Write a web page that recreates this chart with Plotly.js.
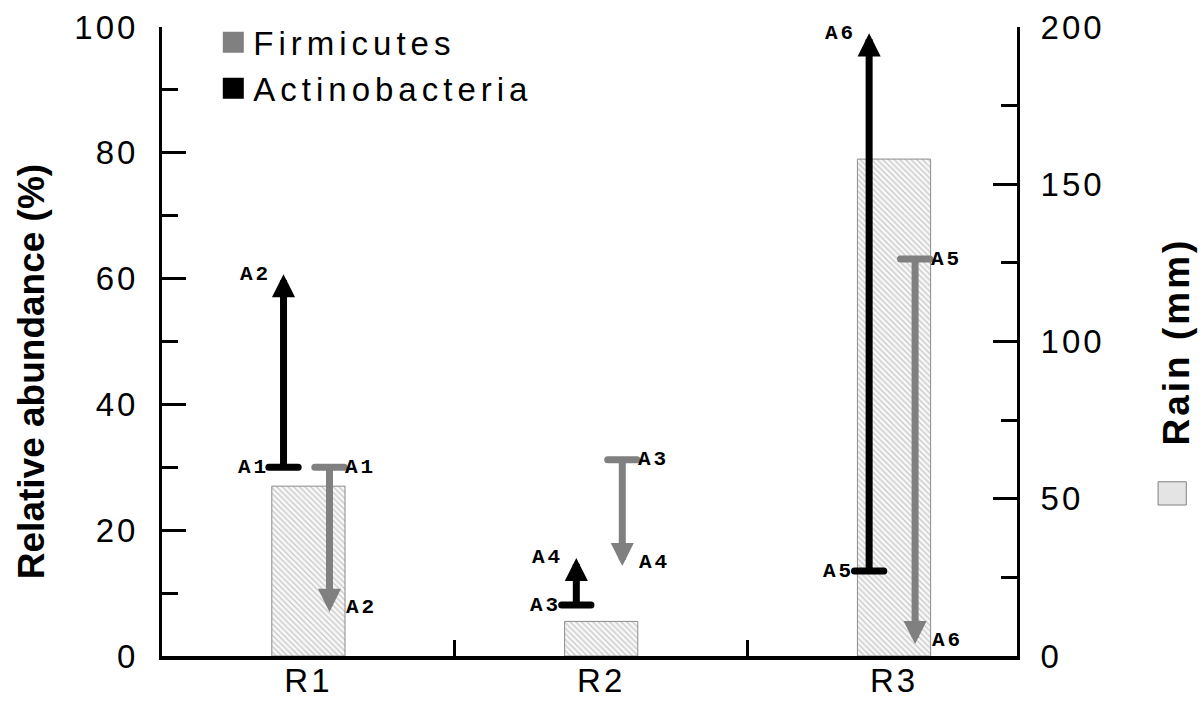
<!DOCTYPE html>
<html>
<head>
<meta charset="utf-8">
<script src="https://cdn.plot.ly/plotly-3.0.1.min.js"></script>
<style>
  html, body { margin: 0; padding: 0; background: #fff; }
  #chart { width: 1202px; height: 704px; }
  .xtick text, .ytick text, .y2tick text { letter-spacing: 3px; }
  .legendtext { letter-spacing: 5px; }
  .ytitle { letter-spacing: 3px; }
  text.annotation-text[style*="Mono"] { letter-spacing: 3px; }
  .scatterlayer path.js-line { stroke-linecap: round; }
</style>
</head>
<body>
<div id="chart"></div>
<script>
// ---- data ----
const categories = ['R1', 'R2', 'R3'];
const rainMM = [54, 11, 158];                 // right axis (mm)
const actinoStart = [30, 8.1, 13.5];          // Actinobacteria, %
const actinoEnd   = [60.7, 15.6, 99.0];
const actinoStartLabel = ['A1', 'A3', 'A5'];
const actinoEndLabel   = ['A2', 'A4', 'A6'];
const firmiStart = [30, 31.2, 63.1];          // Firmicutes, %
const firmiEnd   = [7.0, 14.3, 1.9];
const firmiStartLabel = ['A1', 'A3', 'A5'];
const firmiEndLabel   = ['A2', 'A4', 'A6'];

// ---- style constants ----
const GRAY = '#808080';
const BLACK = '#000000';
const actinoOff = -0.085;
const firmiOff = 0.072;
const capHalf = 0.05;
const idx = categories.map((c, i) => i);

const traces = [];
// rain bars (primary y, right side)
traces.push({
  type: 'bar', x: idx, y: rainMM, width: 0.25, yaxis: 'y', xaxis: 'x',
  showlegend: false, hoverinfo: 'y',
  marker: {
    color: '#f6f6f6',
    line: { color: '#8c8c8c', width: 1 },
    pattern: { shape: '\\', fgcolor: '#c6c6c6', bgcolor: '#f8f8f8', size: 4, solidity: 0.3 }
  }
});

function caps(starts, off) {
  const xs = [], ys = [];
  starts.forEach((v, i) => {
    xs.push(i + off - capHalf, i + off + capHalf, null);
    ys.push(v, v, null);
  });
  return { xs, ys };
}
const cA = caps(actinoStart, actinoOff);
const cF = caps(firmiStart, firmiOff);
traces.push({ type: 'scatter', mode: 'lines', x: cA.xs, y: cA.ys, yaxis: 'y2',
  line: { color: BLACK, width: 7 }, showlegend: false, hoverinfo: 'skip' });
traces.push({ type: 'scatter', mode: 'lines', x: cF.xs, y: cF.ys, yaxis: 'y2',
  line: { color: GRAY, width: 7 }, showlegend: false, hoverinfo: 'skip' });
// legend entries
traces.push({ type: 'scatter', mode: 'markers', x: [null], y: [null], yaxis: 'y2',
  name: 'Firmicutes', marker: { symbol: 'square', color: GRAY, size: 16, line: { color: GRAY, width: 5 } } });
traces.push({ type: 'scatter', mode: 'markers', x: [null], y: [null], yaxis: 'y2',
  name: 'Actinobacteria', marker: { symbol: 'square', color: BLACK, size: 16, line: { color: BLACK, width: 5 } } });

const annotations = [];
const labFont = { family: 'Liberation Mono', size: 21, color: BLACK, weight: 'bold' };
function addArrows(starts, ends, off, color, sLab, eLab, side) {
  starts.forEach((s, i) => {
    const xv = i + off;
    annotations.push({
      x: xv, y: ends[i], ax: xv, ay: s, xref: 'x', yref: 'y2', axref: 'x', ayref: 'y2',
      text: '', showarrow: true, arrowhead: 2, arrowwidth: 7, arrowsize: 0.66,
      arrowcolor: color, standoff: 0, startstandoff: 0, font: { size: 1 }
    });
    if (side === 'left') {
      annotations.push({ x: xv, y: s, xref: 'x', yref: 'y2', text: sLab[i], showarrow: false,
        xanchor: 'right', yanchor: 'middle', xshift: -13, font: labFont });
      annotations.push({ x: xv, y: ends[i], xref: 'x', yref: 'y2', text: eLab[i], showarrow: false,
        xanchor: 'right', yanchor: 'middle', xshift: -11, yshift: 0, font: labFont });
    } else {
      annotations.push({ x: xv, y: s, xref: 'x', yref: 'y2', text: sLab[i], showarrow: false,
        xanchor: 'left', yanchor: 'middle', xshift: 14, font: labFont });
      annotations.push({ x: xv, y: ends[i], xref: 'x', yref: 'y2', text: eLab[i], showarrow: false,
        xanchor: 'left', yanchor: 'middle', xshift: 15, yshift: 4, font: labFont });
    }
  });
}
addArrows(actinoStart, actinoEnd, actinoOff, BLACK, actinoStartLabel, actinoEndLabel, 'left');
addArrows(firmiStart, firmiEnd, firmiOff, GRAY, firmiStartLabel, firmiEndLabel, 'right');

// left axis title as annotation (positioned as in the reference)
annotations.push({
  xref: 'paper', yref: 'paper', x: -0.153, y: 0.4515, text: 'Relative abundance (%)',
  textangle: -90, showarrow: false, xanchor: 'center', yanchor: 'middle',
  font: { family: 'Liberation Sans', size: 37, color: BLACK, weight: 'bold' }
});

const tickFont = { family: 'Liberation Sans', size: 33, color: BLACK };

const layout = {
  width: 1202, height: 704,
  margin: { l: 162, r: 185, t: 27, b: 48 },
  paper_bgcolor: '#ffffff', plot_bgcolor: '#ffffff',
  font: { family: 'Liberation Sans', color: BLACK },
  showlegend: true,
  legend: {
    x: 0.06, y: 1.02, xanchor: 'left', yanchor: 'top',
    bgcolor: 'rgba(0,0,0,0)', font: { family: 'Liberation Sans', size: 33, color: BLACK },
    tracegroupgap: 0, itemwidth: 30
  },
  xaxis: {
    range: [-0.5, 2.42], tickvals: idx, ticktext: categories,
    ticks: '', showgrid: false, zeroline: false,
    showline: true, linecolor: BLACK, linewidth: 4,
    tickfont: tickFont, ticklabelstandoff: -8,
    minor: { tickvals: [0.5, 1.5], ticks: 'inside', ticklen: 16, tickwidth: 3, tickcolor: BLACK, showgrid: false }
  },
  yaxis: {
    side: 'right', range: [0, 200], tickvals: [0, 50, 100, 150, 200],
    ticks: 'inside', ticklen: 24, tickwidth: 3, tickcolor: BLACK,
    minor: { dtick: 25, ticks: 'inside', ticklen: 16, tickwidth: 3, tickcolor: BLACK, showgrid: false },
    showline: true, linecolor: BLACK, linewidth: 3, showgrid: false, zeroline: false,
    tickfont: tickFont, ticklabelstandoff: 14,
    title: { text: 'Rain (mm)', standoff: 60, font: { family: 'Liberation Sans', size: 37, color: BLACK, weight: 'bold' } }
  },
  yaxis2: {
    overlaying: 'y', side: 'left', range: [0, 100], tickvals: [0, 20, 40, 60, 80, 100],
    ticks: 'inside', ticklen: 24, tickwidth: 3, tickcolor: BLACK,
    minor: { dtick: 10, ticks: 'inside', ticklen: 16, tickwidth: 3, tickcolor: BLACK, showgrid: false },
    showline: true, linecolor: BLACK, linewidth: 3, showgrid: false, zeroline: false,
    tickfont: tickFont, ticklabelstandoff: 14
  },
  annotations: annotations,
  shapes: [{
    type: 'rect', xref: 'paper', yref: 'paper',
    x0: 1.165, x1: 1.198, y0: 0.240, y1: 0.277,
    fillcolor: '#e4e4e4', line: { color: '#808080', width: 1 }
  }]
};

Plotly.newPlot('chart', traces, layout, { displayModeBar: false, staticPlot: true });
</script>
</body>
</html>
